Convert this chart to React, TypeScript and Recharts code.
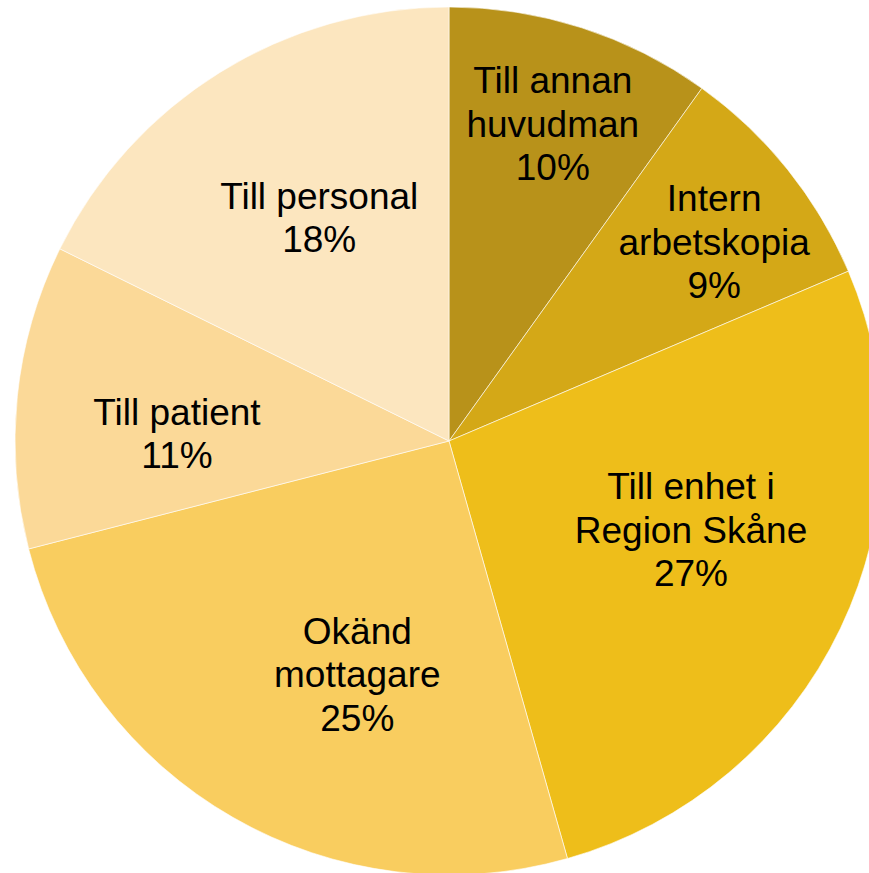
import React from "react";
import { PieChart, Pie, Cell } from "recharts";

const categories = [
  "Till annan\nhuvudman",
  "Intern\narbetskopia",
  "Till enhet i\nRegion Skåne",
  "Okänd\nmottagare",
  "Till patient",
  "Till personal",
];
const values = [9.9, 8.7, 27.0, 25.4, 11.3, 17.7];

const colors = ["#B8921A", "#D4A817", "#EEBE1A", "#F9CD5F", "#FBD998", "#FCE6BF"];
// label placement (layout only): radius fraction and angular nudge (deg, clockwise)
const labelRadiusFrac = [0.769, 0.764, 0.594, 0.577, 0.627, 0.595];
const labelAngleNudge = [0.3, 1.8, -5.4, -8.4, -4.4, 1.7];

const data = categories.map((name, i) => ({ name, value: values[i] }));
const total = values.reduce((a, b) => a + b, 0);

const RAD = Math.PI / 180;

const renderLabel = (props: any) => {
  const { cx, cy, midAngle, outerRadius, index, value } = props;
  const r = outerRadius * labelRadiusFrac[index];
  const theta = (90 - midAngle + labelAngleNudge[index]) * RAD; // clockwise from top
  const x = cx + r * Math.sin(theta);
  const y = cy - r * Math.cos(theta);
  const lines = [...categories[index].split("\n"), `${Math.round((value / total) * 100)}%`];
  const lh = 43.5;
  const y0 = y - ((lines.length - 1) / 2) * lh;
  return (
    <text
      key={`l${index}`}
      x={x}
      y={y0}
      textAnchor="middle"
      dominantBaseline="central"
      fill="#000"
      fontFamily="'Liberation Sans', Arial, sans-serif"
      fontSize={37}
    >
      {lines.map((t, i) => (
        <tspan key={i} x={x} y={y0 + i * lh} dominantBaseline="central">
          {t}
        </tspan>
      ))}
    </text>
  );
};

export default function App() {
  return (
    <div style={{ position: "absolute", left: 0, top: 0, width: 869, height: 873, background: "#fff" }}>
      <PieChart width={869} height={873} margin={{ top: 0, right: 0, bottom: 0, left: 0 }}>
        <Pie
          data={data}
          dataKey="value"
          nameKey="name"
          cx={449}
          cy={441}
          outerRadius={434}
          startAngle={90}
          endAngle={-270}
          stroke="#ffffff"
          strokeWidth={0.6}
          label={renderLabel}
          labelLine={false}
          isAnimationActive={false}
        >
          {data.map((d, i) => (
            <Cell key={d.name} fill={colors[i]} />
          ))}
        </Pie>
      </PieChart>
    </div>
  );
}
